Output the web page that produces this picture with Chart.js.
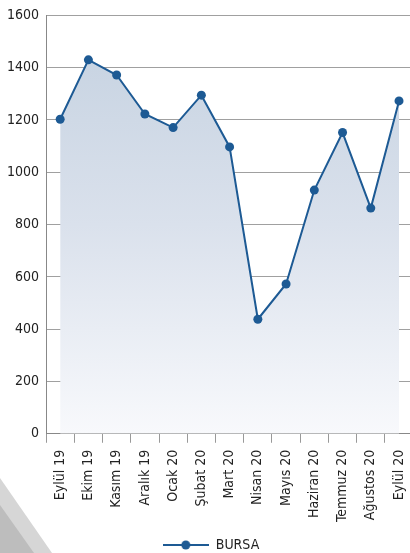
<!DOCTYPE html>
<html>
<head>
<meta charset="utf-8">
<script src="https://cdn.jsdelivr.net/npm/chart.js@4"></script>
<style>
html,body{margin:0;padding:0;background:#fff;overflow:hidden;}
#wrap{position:relative;width:410px;height:553px;overflow:hidden;}
#deco1{position:absolute;left:0;top:0;width:80px;height:553px;background:#d6d6d6;clip-path:polygon(0 478px,52px 553px,0 553px);}
#deco2{position:absolute;left:0;top:0;width:80px;height:553px;background:#bdbdbd;clip-path:polygon(0 505px,34px 553px,0 553px);}
canvas{position:absolute;left:0;top:0;}
</style>
</head>
<body>
<div id="wrap">
<div id="deco1"></div>
<div id="deco2"></div>
<canvas id="c" width="423" height="562"></canvas>
</div>
<script>
const categories = ["Eylül 19","Ekim 19","Kasım 19","Aralık 19","Ocak 20","Şubat 20","Mart 20","Nisan 20","Mayıs 20","Haziran 20","Temmuz 20","Ağustos 20","Eylül 20"];
const bursa = [1203,1430,1372,1223,1171,1295,1097,438,573,932,1152,863,1273];
const seriesName = "BURSA";
const yMin = 0, yMax = 1600, yStep = 200;

const lineColor = "#1d5a94";
const FONT = "'Liberation Sans Narrow','DejaVu Sans Condensed',sans-serif";

// legend marker: line with a dot
const mk = document.createElement('canvas');
mk.width = 46; mk.height = 12;
(function(){
  const g = mk.getContext('2d');
  g.strokeStyle = lineColor; g.lineWidth = 2;
  g.beginPath(); g.moveTo(0,6); g.lineTo(46,6); g.stroke();
  g.fillStyle = lineColor; g.beginPath(); g.arc(23,6,4.5,0,Math.PI*2); g.fill();
})();

new Chart(document.getElementById('c'), {
  type: 'line',
  data: {
    labels: categories,
    datasets: [{
      label: seriesName,
      data: bursa,
      borderColor: lineColor,
      borderWidth: 2,
      pointRadius: 4.5,
      pointStyle: 'circle',
      pointBackgroundColor: lineColor,
      pointBorderColor: lineColor,
      pointBorderWidth: 0,
      tension: 0,
      fill: 'origin',
      backgroundColor: function(ctx){
        const ca = ctx.chart.chartArea;
        if (!ca) return 'rgba(200,212,226,0.8)';
        const gr = ctx.chart.ctx.createLinearGradient(0, ca.top, 0, ca.bottom);
        gr.addColorStop(0, 'rgb(196,209,224)');
        gr.addColorStop(0.5, 'rgb(218,225,236)');
        gr.addColorStop(1, 'rgb(248,249,252)');
        return gr;
      }
    }]
  },
  options: {
    responsive: false,
    animation: false,
    devicePixelRatio: 1,
    layout: { padding: { top: 8, right: 1, left: 0, bottom: 0 } },
    plugins: {
      legend: {
        position: 'bottom',
        labels: {
          usePointStyle: true,
          pointStyleWidth: 46,
          color: '#222',
          font: { family: FONT, size: 14 },
          padding: 9,
          generateLabels: function(chart){
            return [{ text: seriesName, pointStyle: mk, fillStyle: lineColor, strokeStyle: lineColor, lineWidth: 0, datasetIndex: 0, fontColor:'#222' }];
          }
        }
      },
      tooltip: { enabled: false }
    },
    scales: {
      x: {
        offset: true,
        grid: { display: true, drawOnChartArea: false, drawTicks: true, tickLength: 9, color: '#999', offset: true },
        border: { display: true, color: '#888', width: 1 },
        ticks: { color: '#222', font: { family: FONT, size: 14 }, maxRotation: 90, minRotation: 90, padding: 7, autoSkip: false }
      },
      y: {
        min: yMin, max: yMax,
        grid: { color: '#a0a0a0', lineWidth: 1, drawTicks: false },
        border: { display: true, color: '#888', width: 1 },
        ticks: { stepSize: yStep, color: '#222', font: { family: FONT, size: 14 }, padding: 7,
          callback: function(v){ return String(v); } }
      }
    }
  }
});
</script>
</body>
</html>
